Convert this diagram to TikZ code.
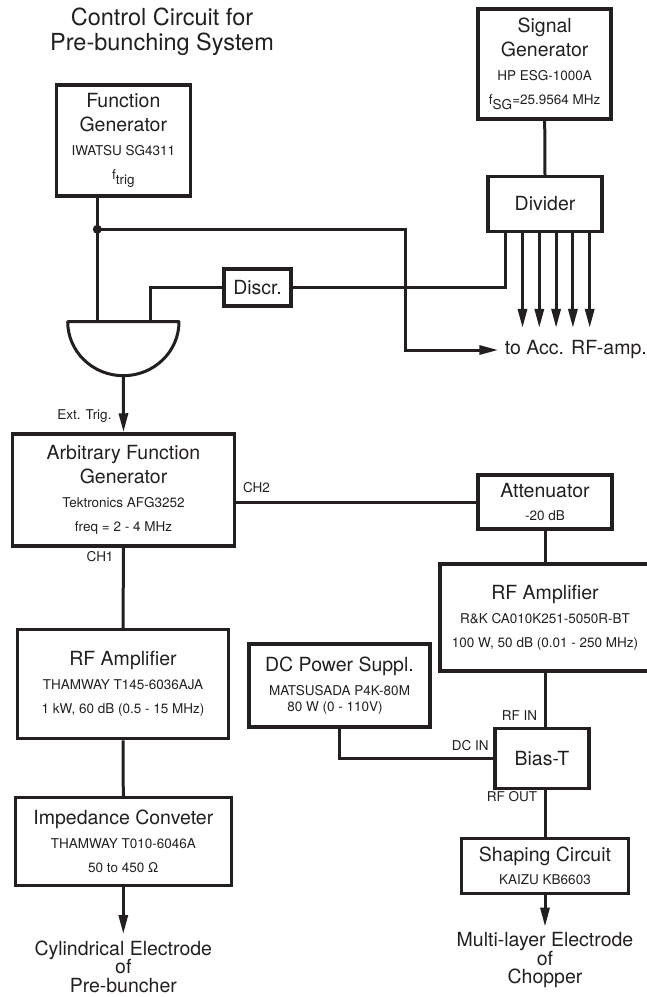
\documentclass[tikz,border=0pt]{standalone}
\usepackage{fontspec}
\setmainfont{TeX Gyre Heros}
\usetikzlibrary{arrows.meta, positioning, calc}

\definecolor{ink}{HTML}{231F20}
\newcommand{\bigtxt}{\fontsize{19.5}{24}\selectfont}
\newcommand{\smalltxt}{\fontsize{13.5}{24}\selectfont}
\newcommand{\titletxt}{\fontsize{23.5}{25}\selectfont}
\newcommand{\sinktxt}{\fontsize{19.5}{18.6}\selectfont}
\newcommand{\low}[1]{\raisebox{-4.5pt}{#1}}

\begin{document}
\begin{tikzpicture}[
    x=1pt, y=1pt,
    color=ink,
    line width=3pt,
    >={Triangle[length=19pt, width=9pt]},
    block/.style={draw, line width=3.5pt, inner sep=0pt, align=center, font=\bigtxt},
    tag/.style={inner sep=1pt, font=\smalltxt},
    sink/.style={inner sep=0pt, align=center, font=\sinktxt}
]
\useasboundingbox (0,0) rectangle (647,-997);
\clip (0,0) rectangle (647,-997);

\node (Title) at (162,-31.6) [font=\titletxt, align=center] {Control Circuit for\\Pre-bunching System};

% sources
\node (FG) at (123.3,-140.3) [block, minimum width=134, minimum height=111]
    {Function\\Generator\\{\smalltxt IWATSU SG4311}\\{\smalltxt f\low{trig}}};
\node (SG) at (544.7,-64) [block, minimum width=133, minimum height=110]
    {Signal\\Generator\\{\smalltxt HP ESG-1000A}\\{\smalltxt f\low{SG}=25.9564 MHz}};
\node (Divider) at (545,-204) [block, minimum width=114, minimum height=55] {Divider};
\node (Discr) at (257.5,-287.7) [block, minimum width=67, minimum height=37] {Discr.};

\coordinate (Split) at (97.3,-229.3);
\coordinate (GateL) at (67.7,-321.7);
\coordinate (GateR) at (179,-321.7);
\coordinate (GateIn1) at (97.3,-321.7);
\coordinate (GateIn2) at (150,-321.7);
\coordinate (GateOut) at (123.3,-375.7);
\coordinate (AccBend) at (405,-350);
\coordinate (AccTip) at (498.3,-350);

\node (Acc) [right=4pt of AccTip, inner sep=1pt, font=\bigtxt] {to Acc. RF-amp.};

\draw (SG.south) -- (Divider.north);
\draw (FG.south -| Split) -- (GateIn1);
\fill (Split) circle (4.5pt);
\draw[->] (Split) -| (AccBend) -- (AccTip);
\draw ([xshift=-39.3pt]Divider.south) |- (Discr.east);
\draw (Discr.west) -| (GateIn2);
\foreach \i in {1,...,5} {
    \coordinate (Tip\i) at ($(Divider.south)+({-39.3+16.8*\i},-94.7)$);
    \draw[->] (Divider.south -| Tip\i) -- (Tip\i);
}

% coincidence gate
\draw[line join=round] (GateL) -- (GateR) arc[start angle=0, end angle=-180, x radius=55.65pt, y radius=54pt] -- cycle;

% AFG and the two channels
\node (AFG) at (123.5,-490) [block, minimum width=222, minimum height=112]
    {Arbitrary Function\\Generator\\{\smalltxt Tektronics AFG3252}\\{\smalltxt freq = 2 - 4 MHz}};
\node (ExtTrig) at (114,-416.5) [tag, anchor=east] {Ext. Trig.};
\draw[->] (GateOut) -- (AFG.north);

\node (Atten) at (545,-502) [block, minimum width=134, minimum height=54]
    {Attenuator\\[-1.5pt]{\smalltxt -20 dB}};
\node (CH2) at (240.5,-487.7) [tag, anchor=west] {CH2};
\draw (Atten.west) -- (Atten.west -| AFG.east);

\node (AmpR) at (545,-617.5) [block, minimum width=210, minimum height=107]
    {RF Amplifier\\{\smalltxt R\&K CA010K251-5050R-BT}\\{\smalltxt 100 W, 50 dB (0.01 - 250 MHz)}};
\draw (Atten.south) -- (AmpR.north);

\node (AmpL) at (123,-684.2) [block, minimum width=211, minimum height=109]
    {RF Amplifier\\{\smalltxt THAMWAY T145-6036AJA}\\{\smalltxt 1 kW, 60 dB (0.5 - 15 MHz)}};
\node (CH1) at (116,-556.7) [tag, anchor=east] {CH1};
\draw (AFG.south) -- (AmpL.north);

\node (DC) at (339.5,-685.5) [block, minimum width=181, minimum height=83]
    {DC Power Suppl.\\{\smalltxt MATSUSADA P4K-80M}\\[-7.5pt]{\smalltxt 80 W (0 - 110V)\kern9pt}};
\node (BiasT) at (542,-758.7) [block, minimum width=94, minimum height=60] {Bias-T};
\node (RFin) at (539.5,-716) [tag, anchor=east] {RF IN};
\node (DCin) at (491,-746) [tag, anchor=east] {DC IN};
\node (RFout) at (539.5,-796.7) [tag, anchor=east] {RF OUT};
\draw (AmpR.south) -- (AmpR.south |- BiasT.north);
\draw (DC.south) |- (BiasT.west);

% outputs
\node (Imp) at (123.3,-841.7) [block, minimum width=216, minimum height=88]
    {Impedance Conveter\\{\smalltxt THAMWAY T010-6046A}\\{\smalltxt 50 to 450 Ω}};
\node (Shaping) at (545,-865.8) [block, minimum width=167, minimum height=55]
    {Shaping Circuit\\[-1.5pt]{\smalltxt KAIZU KB6603}};
\draw (AmpL.south) -- (Imp.north);
\draw (Shaping.north |- BiasT.south) -- (Shaping.north);

\coordinate (BuncherTip) at (123.3,-934);
\coordinate (ChopperTip) at (545,-926.7);
\node (Buncher) [below=5pt of BuncherTip, sink] {Cylindrical Electrode\\of\\Pre-buncher};
\node (Chopper) [below=4pt of ChopperTip, sink] {Multi-layer Electrode\\of\\Chopper};
\draw[->] (Imp.south) -- (BuncherTip);
\draw[->] (Shaping.south) -- (ChopperTip);

\end{tikzpicture}
\end{document}
